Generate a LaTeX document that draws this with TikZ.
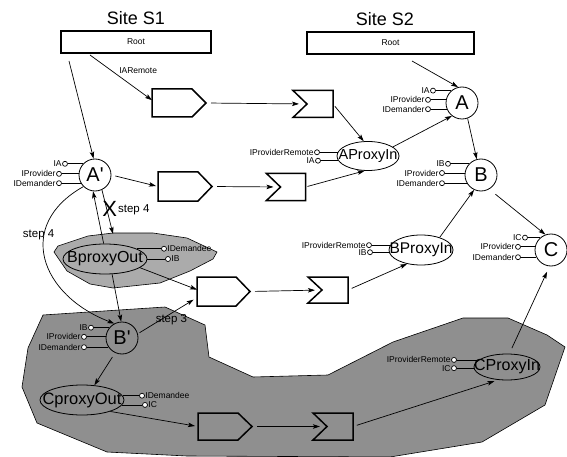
\documentclass[tikz,border=0pt]{standalone}
\usepackage{fontspec}
\setmainfont{Liberation Sans}
\usetikzlibrary{arrows.meta,shapes.geometric,calc}
\newcommand\portleft[4]{\node[port, label={[plab]left:#4}] (#1) at (#2 -| #3,0) {}; \draw[pline] (#1) -- (#2);}
\newcommand\portright[4]{\node[port, label={[plab]right:#4}] (#1) at (#2 -| #3,0) {}; \draw[pline] (#1) -- (#2);}
\newcommand\sendshape[1]{\draw[boxline] (#1.north west) -- ($(#1.north east)+(-14,0)$) -- (#1.east) -- ($(#1.south east)+(-14,0)$) -- (#1.south west) -- cycle;}
\newcommand\recvshape[2]{\coordinate (#2) at ($(#1.west)+(14,0)$); \draw[boxline] (#1.north west) -- (#1.north east) -- (#1.south east) -- (#1.south west) -- (#2) -- cycle;}
\begin{document}
\begin{tikzpicture}[x=1pt,y=-1pt,
  arr/.style={-{Stealth[length=7pt,width=4.5pt,inset=1.5pt]}, line width=0.7pt},
  boxline/.style={line width=1.5pt, line join=miter},
  rootbox/.style={draw, line width=1.5pt, minimum width=#1, minimum height=22pt, inner sep=0pt, font=\fontsize{8.5}{9}\selectfont},
  comp/.style={draw, circle, line width=0.8pt, minimum size=32pt, inner sep=0pt, font=\fontsize{20}{20}\selectfont},
  prox/.style={draw, ellipse, line width=0.8pt, inner sep=0pt},
  port/.style={draw, circle, line width=0.7pt, fill=white, minimum size=5pt, inner sep=0pt},
  pline/.style={line width=0.8pt},
  plab/.style={font=\fontsize{8.5}{9}\selectfont, inner sep=0.4pt, label distance=0pt},
  shapebox/.style={minimum width=#1, inner sep=0pt, outer sep=0pt},
  steplab/.style={font=\fontsize{11.5}{12}\selectfont, inner sep=0pt},
  blobA/.style={fill=black!33, draw=black, line width=0.6pt},
  blobB/.style={fill=black!44, draw=black, line width=0.6pt}
]
\useasboundingbox (0,0) rectangle (567,457);

% shaded regions
\draw[blobB] (43,315) -- (165,307) -- (205,325) -- (209,357) -- (253,377) -- (328,375) -- (393,342) -- (463,318) -- (508,318) -- (547,335) -- (565,347) -- (545,405) -- (482,442) -- (390,457) -- (187,456) -- (107,452) -- (37,423) -- (22,387) -- (28,348) -- cycle;
\draw[blobA] (58,246) -- (88,236) -- (113,233) -- (153,233) -- (187,238) -- (217,252) -- (213,259) -- (190,271) -- (160,283) -- (113,288) -- (90,284) -- (67,271) -- (54,252) -- cycle;

% titles and roots
\node[font=\fontsize{18}{18}\selectfont] (t1) at (136,18) {Site S1};
\node[font=\fontsize{18}{18}\selectfont] (t2) at (385,19) {Site S2};
\node[rootbox=150pt] (r1) at (136,42) {Root};
\node[rootbox=167pt] (r2) at (390.5,43) {Root};
\coordinate (r1a) at (69,61);
\coordinate (r1b) at (90,55);
\coordinate (r2a) at (412,61);

% components
\node[comp, fill=white] (Ap) at (95,175) {A\textquotesingle};
\node[comp, fill=white] (A) at (462,103) {A};
\node[comp, fill=white] (B) at (481,175) {B};
\node[comp, fill=white] (C) at (551,250) {C};
\node[comp] (Bp) at (122,338) {B\textquotesingle};

% proxies
\node[prox, fill=white, minimum width=62pt, minimum height=29pt, label={[font=\fontsize{14.5}{15}\selectfont]center:AProxyIn}] (AP) at (368,156) {};
\node[prox, fill=white, minimum width=64pt, minimum height=30pt, label={[font=\fontsize{15.5}{16}\selectfont]center:BProxyIn}] (BPI) at (421,250) {};
\node[prox, minimum width=66pt, minimum height=26pt, label={[font=\fontsize{16}{16}\selectfont]center:CProxyIn}] (CPI) at (507,367) {};
\node[prox, minimum width=84pt, minimum height=30pt, label={[font=\fontsize{16}{16}\selectfont]center:BproxyOut}] (BPO) at (105,259) {};
\node[prox, minimum width=84pt, minimum height=30pt, label={[font=\fontsize{16.5}{17}\selectfont]center:CproxyOut}] (CPO) at (82,400) {};

% ports
\portleft{pApIA}{Ap.137}{65}{IA}
\portleft{pApP}{Ap.176}{59}{IProvider}
\portleft{pApD}{Ap.210}{59}{IDemander}
\portleft{pAIA}{A.131}{433}{IA}
\portleft{pAP}{A.169}{428}{IProvider}
\portleft{pAD}{A.202}{428}{IDemander}
\portleft{pBIB}{B.137}{448}{IB}
\portleft{pBP}{B.173}{442}{IProvider}
\portleft{pBD}{B.210}{442}{IDemander}
\portleft{pCIC}{C.131}{525}{IC}
\portleft{pCP}{C.169}{518}{IProvider}
\portleft{pCD}{C.206}{518}{IDemander}
\portleft{pBpIB}{Bp.141}{91}{IB}
\portleft{pBpP}{Bp.176}{84}{IProvider}
\portleft{pBpD}{Bp.214}{84}{IDemander}
\portleft{pAPR}{AP.173}{317}{IProviderRemote}
\portleft{pAPIA}{AP.189}{318}{IA}
\portleft{pBPIR}{BPI.171}{369}{IProviderRemote}
\portleft{pBPIB}{BPI.184}{370}{IB}
\portleft{pCPIR}{CPI.166}{454}{IProviderRemote}
\portleft{pCPIC}{CPI.182}{454}{IC}
\portright{pBPOD}{BPO.18}{164}{IDemandee}
\portright{pBPOB}{BPO.0}{168}{IB}
\portright{pCPOD}{CPO.6}{142}{IDemandee}
\portright{pCPOC}{CPO.353}{145}{IC}

% send / receive stubs
\node[shapebox=54pt, minimum height=28pt] (p1) at (179,103) {};
\node[shapebox=54pt, minimum height=29pt] (p2) at (185,186.5) {};
\node[shapebox=53pt, minimum height=29pt] (p3) at (223.5,291.5) {};
\node[shapebox=54pt, minimum height=27pt] (p4) at (225,426.5) {};
\node[shapebox=40pt, minimum height=27pt] (c1) at (313,104) {};
\node[shapebox=39pt, minimum height=27pt] (c2) at (286,187) {};
\node[shapebox=40pt, minimum height=26pt] (c3) at (328,290) {};
\node[shapebox=40pt, minimum height=27pt] (c4) at (333,426.5) {};
\sendshape{p1}
\sendshape{p2}
\sendshape{p3}
\sendshape{p4}
\recvshape{c1}{c1n}
\recvshape{c2}{c2n}
\recvshape{c3}{c3n}
\recvshape{c4}{c4n}

% connectors
\draw[arr] (r1a) -- (Ap.95);
\draw[arr] (r1b) -- node[pos=0.45, anchor=south west, inner sep=1pt, font=\fontsize{8.5}{9}\selectfont] {IARemote} (p1.174);
\draw[arr, shorten <=5pt, shorten >=8pt] (p1.east) -- (c1n);
\draw[arr, shorten <=3pt] (c1.east) -- (AP.106);
\draw[arr, shorten <=4pt, shorten >=2pt] (Ap.0) -- (p2.west);
\draw[arr, shorten <=5pt, shorten >=7pt] (p2.east) -- (c2n);
\draw[arr, shorten <=2pt] (c2.east) -- (AP.257);
\draw[arr] (AP.20) -- (A.232);
\draw[arr] (r2a) -- (A.104);
\draw[arr] (A.290) -- (B.105);
\draw[arr, shorten <=8pt] (B.300) -- (C.110);
\draw[arr] (BPI.34) -- (B.245);
\draw[arr, shorten <=4pt] (c3.east) -- (BPI.225);
\draw[arr, shorten <=6pt, shorten >=6pt] (CPI.80) -- (C.265);
\draw[arr, shorten <=4pt, shorten >=4pt] (c4.east) -- (CPI.236);
\draw[arr, shorten <=5pt, shorten >=7pt] (p3.east) -- (c3n);
\draw[arr, shorten <=5pt, shorten >=7pt] (p4.east) -- (c4n);
\draw[arr] (BPO.346) -- (p3.176);
\draw[arr] (BPO.295) -- (Bp.93);
\draw[arr, shorten <=2pt, shorten >=4pt] (Bp.15) -- node[pos=0.5, xshift=4pt, yshift=-3.5pt, steplab] {step 3} (p3.193);
\draw[arr, shorten <=5pt] (Bp.245) -- (CPO.50);
\draw[arr, shorten >=3pt] (CPO.338) -- (p4.west);
\coordinate (bt) at (113,234);
\draw[arr] (BPO.95) -- (Ap.263);
\draw[arr] (Ap.295) -- node[pos=0.44, xshift=3pt, inner sep=0pt, font=\fontsize{22}{22}\selectfont] {X} node[pos=0.44, anchor=west, xshift=11pt, steplab] {step 4} (bt);
\draw[arr] (Ap.225) .. controls (15,225) and (40,295) .. node[pos=0.33, xshift=-6pt, yshift=-2pt, steplab] {step 4} (Bp.118);
\end{tikzpicture}
\end{document}
